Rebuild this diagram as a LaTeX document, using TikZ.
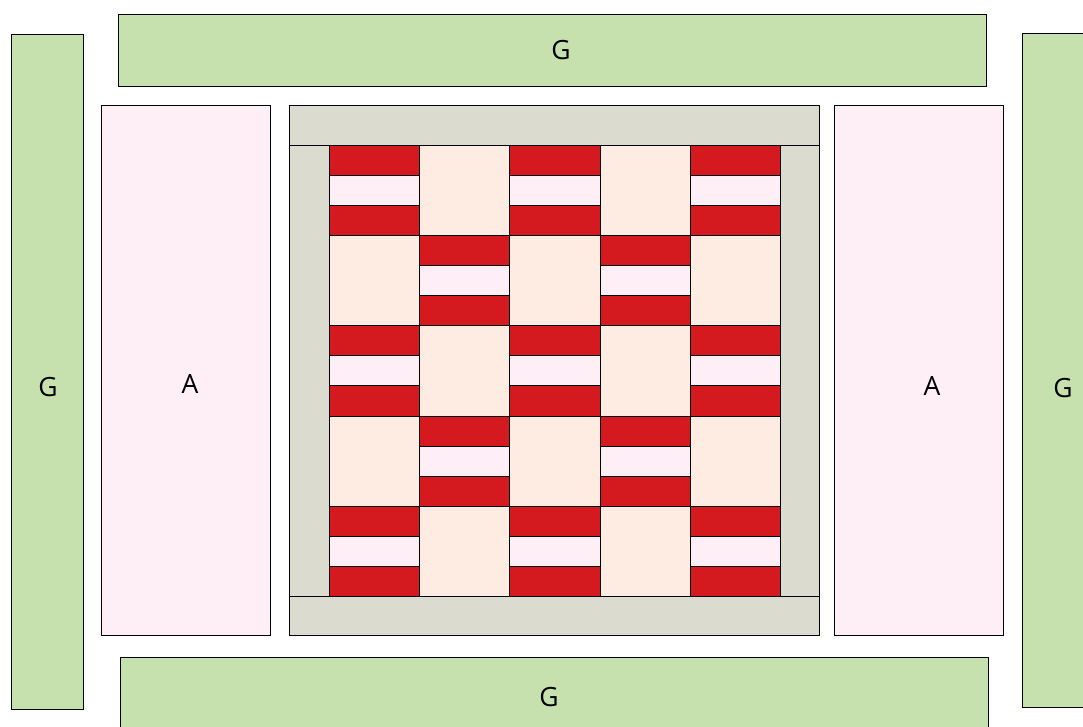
\documentclass[tikz,border=0pt]{standalone}
\usepackage{fontspec}
\setmainfont{Open Sans}
\definecolor{gbox}{HTML}{C6E1AE}
\definecolor{abox}{HTML}{FEEEF5}
\definecolor{frame}{HTML}{DBDCCF}
\definecolor{redc}{HTML}{D41A1F}
\definecolor{peach}{HTML}{FEECE2}
\tikzset{
  x=1pt,y=-1pt,
  box/.style={draw=black,line width=1.3pt},
  green box/.style={box,fill=gbox},
  pink box/.style={box,fill=abox},
  frame box/.style={box,fill=frame},
  red box/.style={box,fill=redc},
  peach box/.style={box,fill=peach},
  lab/.style={font=\fontsize{26.5}{30}\selectfont,text=black,inner sep=0pt}
}
\begin{document}
\begin{tikzpicture}
\clip (0,0) rectangle (1083,726);
\fill[white] (0,0) rectangle (1083,726);
\begin{scope}[shift={(0.2,0.2)}]
% outer G
\draw[green box] (118.5,14) rectangle (986,86);
\draw[green box] (11,34) rectangle (83,709);
\draw[green box] (1022.5,33) rectangle (1095,707);
\draw[green box] (120.5,657) rectangle (988.5,740);
% A
\draw[pink box] (101,105.5) rectangle (270.5,635.5);
\draw[pink box] (834.5,105.5) rectangle (1003.5,635.5);
% frame
\draw[frame box] (289,145) rectangle (329,596);
\draw[frame box] (780,145) rectangle (819.5,596);
\draw[frame box] (289,105.5) rectangle (819.5,145);
\draw[frame box] (289,596) rectangle (819.5,635.5);
% weave
\def\cellA#1#2#3#4{%
  \draw[red box] (#1,#3) rectangle (#2,#3+30);
  \draw[pink box] (#1,#3+30) rectangle (#2,#3+60.3);
  \draw[red box] (#1,#3+60.3) rectangle (#2,#4);
}
\def\cellB#1#2#3#4{\draw[peach box] (#1,#3) rectangle (#2,#4);}
% rows
\foreach \ya/\yb [count=\r] in {145/235,235/325,325/416,416/506,506/596}{
  \foreach \xa/\xb [count=\c] in {329/419,419/509.5,509.5/600,600/690,690/780}{
    \pgfmathtruncatemacro{\parity}{mod(\r+\c,2)}
    \ifnum\parity=0 \cellA{\xa}{\xb}{\ya}{\yb}\else \cellB{\xa}{\xb}{\ya}{\yb}\fi
  }
}
\end{scope}
% labels
\node[lab] (gtop) at (561,50) {G};
\node[lab] (gleft) at (48,387) {G};
\node[lab] (gright) at (1063,388) {G};
\node[lab] (gbot) at (549,697) {G};
\node[lab] (aleft) at (190,384) {A};
\node[lab] (aright) at (932,386) {A};
\end{tikzpicture}
\end{document}
